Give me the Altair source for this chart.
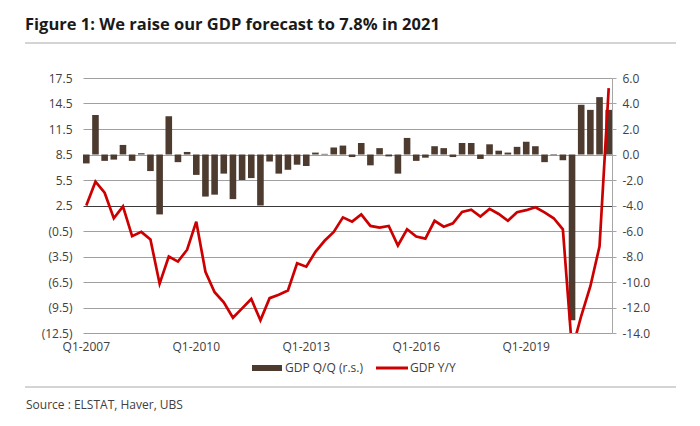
import altair as alt
import pandas as pd

# ---------------- data ----------------
quarters = [f"Q{q}-{y}" for y in range(2007, 2022) for q in range(1, 5)][:58]

gdp_qq = [  # GDP Q/Q (right scale)
    -0.7, 3.1, -0.5, -0.4, 0.75, -0.5, 0.1, -1.3, -4.7, 3.0,
    -0.6, 0.2, -1.6, -3.3, -3.15, -1.5, -3.5, -2.0, -1.85, -4.0,
    -0.55, -1.5, -1.2, -0.8, -0.9, 0.15, 0.05, 0.55, 0.7, -0.2,
    0.9, -0.85, 0.5, -0.15, -1.5, 1.3, -0.5, -0.25, 0.65, 0.5,
    -0.2, 0.9, 0.9, -0.35, 0.8, 0.3, 0.15, 0.6, 1.0, 0.65,
    -0.6, -0.05, -0.45, -13.0, 3.9, 3.5, 4.5, 3.5,
]

gdp_yy = [  # GDP Y/Y (left scale)
    2.5, 5.3, 4.0, 1.0, 2.4, -1.1, -0.6, -1.5, -6.7, -3.5,
    -4.1, -2.7, 0.6, -5.3, -7.7, -8.9, -10.7, -9.6, -8.5, -11.0,
    -8.4, -8.0, -7.5, -4.3, -4.7, -2.95, -1.65, -0.6, 1.1, 0.6,
    1.45, 0.1, -0.1, 0.1, -2.2, -0.3, -1.15, -1.4, 0.7, 0.0,
    0.4, 1.75, 2.0, 1.2, 2.1, 1.5, 0.7, 1.7, 1.95, 2.3,
    1.7, 1.0, -0.3, -14.5, -10.5, -7.0, -2.3, 16.3,
]

x_labels = ["Q1-2007", "Q1-2010", "Q1-2013", "Q1-2016", "Q1-2019"]
left_ticks = [-12.5, -9.5, -6.5, -3.5, -0.5, 2.5, 5.5, 8.5, 11.5, 14.5, 17.5]
right_ticks = [-14, -12, -10, -8, -6, -4, -2, 0, 2, 4, 6]

title_text = "Figure 1: We raise our GDP forecast to 7.8% in 2021"
source_text = "Source : ELSTAT, Haver, UBS"
legend_bar = "GDP Q/Q (r.s.)"
legend_line = "GDP Y/Y"

df = pd.DataFrame({"quarter": quarters, "qq": gdp_qq, "yy": gdp_yy})

FONT = "Open Sans"
LABEL = "#404040"
BAR = "#4d3b2f"
RED = "#cc0000"

x_enc = alt.X(
    "quarter:N",
    sort=quarters,
    scale=alt.Scale(paddingInner=0.28, paddingOuter=0.0),
    axis=alt.Axis(
        values=x_labels, labelAngle=0, title=None, ticks=False, domain=False,
        labelFontSize=12, labelColor=LABEL, labelFont=FONT, labelPadding=8,
        grid=False,
    ),
)

bars = alt.Chart(df).mark_bar(color=BAR).encode(
    x=x_enc,
    y=alt.Y(
        "qq:Q",
        scale=alt.Scale(domain=[-14, 6], nice=False),
        axis=alt.Axis(
            orient="right", values=right_ticks, title=None, grid=False,
            labelExpr="datum.value < 0 ? '-' + format(-datum.value, '.1f') : format(datum.value, '.1f')",
            domain=True, domainColor="#a6a6a6", ticks=True, tickSize=4,
            tickColor="#a6a6a6", labelPadding=6, labelFontSize=12,
            labelColor=LABEL, labelFont=FONT,
        ),
    ),
)

line = alt.Chart(df).mark_line(color=RED, strokeWidth=2.7, clip=True).encode(
    x=x_enc,
    y=alt.Y(
        "yy:Q",
        scale=alt.Scale(domain=[-12.5, 17.5], nice=False, zero=False),
        axis=alt.Axis(
            orient="left", values=left_ticks, title=None, grid=True,
            gridColor={"condition": {"test": "datum.value === 2.5", "value": "#3a3a3a"}, "value": "#a0a0a0"},
            gridWidth=1,
            labelExpr="datum.value < 0 ? '(' + format(-datum.value, '.1f') + ')' : format(datum.value, '.1f')",
            domain=False, ticks=False, labelPadding=11, labelFontSize=12,
            labelColor=LABEL, labelFont=FONT,
        ),
    ),
)

one = alt.Data(values=[{}])

title = alt.Chart(one).mark_text(
    text=title_text, align="left", baseline="middle", font=FONT,
    fontSize=16.5, fontWeight="bold", color="#1a1a1a",
).encode(x=alt.value(-58), y=alt.value(-53))

top_rule = alt.Chart(one).mark_rule(color="#d4d4d4", strokeWidth=2).encode(
    x=alt.value(-58), x2=alt.value(593), y=alt.value(-35)
)
bottom_rule = alt.Chart(one).mark_rule(color="#d4d4d4", strokeWidth=2).encode(
    x=alt.value(-58), x2=alt.value(593), y=alt.value(309)
)
source = alt.Chart(one).mark_text(
    text=source_text, align="left", baseline="middle", font=FONT,
    fontSize=12, color=LABEL,
).encode(x=alt.value(-57), y=alt.value(327))

leg_rect = alt.Chart(one).mark_rect(color=BAR).encode(
    x=alt.value(169), x2=alt.value(199), y=alt.value(287), y2=alt.value(293)
)
leg_text1 = alt.Chart(one).mark_text(
    text=legend_bar, align="left", baseline="middle", font=FONT,
    fontSize=12, color=LABEL,
).encode(x=alt.value(202), y=alt.value(290))
leg_line = alt.Chart(one).mark_rule(color=RED, strokeWidth=3).encode(
    x=alt.value(293), x2=alt.value(325), y=alt.value(290)
)
leg_text2 = alt.Chart(one).mark_text(
    text=legend_line, align="left", baseline="middle", font=FONT,
    fontSize=12, color=LABEL,
).encode(x=alt.value(327), y=alt.value(290))

chart = alt.layer(
    bars, line, title, top_rule, bottom_rule, source,
    leg_rect, leg_text1, leg_line, leg_text2,
).resolve_scale(y="independent").properties(
    width=529, height=255,
    autosize=alt.AutoSizeParams(type="none"),
    padding={"left": 75, "top": 70, "right": 80, "bottom": 85},
    background="white",
).configure_view(stroke=None)

chart.save("out.html", embed_options={"renderer": "svg", "actions": False})
